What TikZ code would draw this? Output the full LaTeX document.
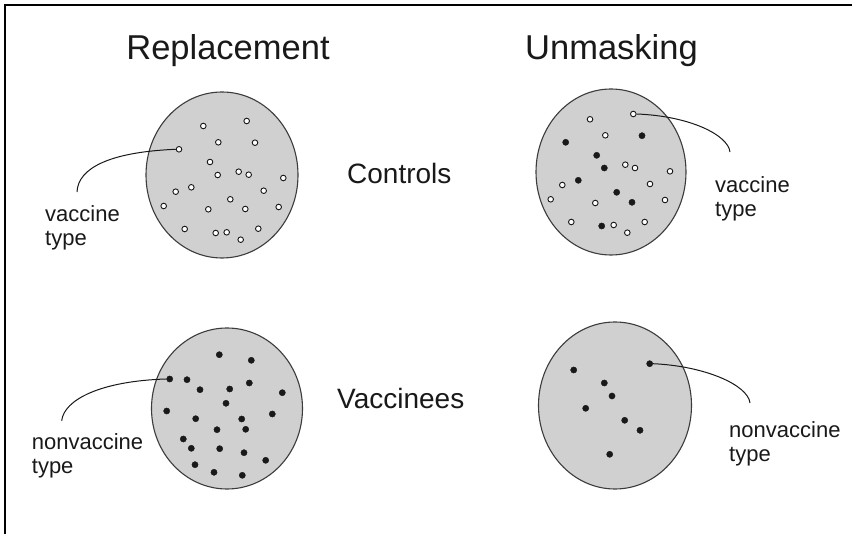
\documentclass[tikz,border=0pt]{standalone}
\usepackage{fontspec}
\setmainfont{Liberation Sans}
\usetikzlibrary{shapes.geometric}
\definecolor{platefill}{RGB}{208,208,208}
\definecolor{ink}{RGB}{25,25,25}
\tikzset{
  plate/.style={ellipse, draw=ink!85, line width=1.1pt, fill=platefill, inner sep=0pt},
  odot/.style={circle, draw=ink, line width=0.9pt, fill=white, inner sep=0pt, minimum size=5.6pt},
  fdot/.style={circle, draw=ink, fill=ink, inner sep=0pt, minimum size=6.2pt},
  lead/.style={draw=ink, line width=1pt},
  title/.style={font=\fontsize{34.5}{40}\selectfont, text=ink, inner sep=0pt},
  group/.style={font=\fontsize{28}{33}\selectfont, text=ink, inner sep=0pt, anchor=base west},
  lbl/.style={font=\fontsize{22}{24.5}\selectfont, text=ink, inner sep=0pt, anchor=base west},
  frameline/.style={draw=black, line width=1.4pt}
}
\begin{document}
\begin{tikzpicture}[x=1pt,y=-1pt]
\useasboundingbox (0,0) rectangle (852,534);
\fill[white] (0,0) rectangle (852,534);
% frame (top and left)
\coordinate (fa) at (852,5);
\coordinate (fb) at (5,5);
\coordinate (fc) at (5,534);
\draw[frameline] (fa) -- (fb) -- (fc);

% titles
\node[title, anchor=base] (tr) at (228,60) {Replacement};
\node[title, anchor=base] (tu) at (611.5,60) {Unmasking};
\node[group] (gc) at (347,184) {Controls};
\node[group] (gv) at (337,409) {Vaccinees};

% plates
\node[plate, minimum width=152pt, minimum height=166pt] (p1) at (222,175) {};
\node[plate, minimum width=150pt, minimum height=166pt] (p2) at (611,172) {};
\node[plate, minimum width=151pt, minimum height=161pt] (p3) at (227,408.5) {};
\node[plate, minimum width=153pt, minimum height=167pt] (p4) at (615,405.5) {};

% plate 1: vaccine type (open)
\foreach \x/\y [count=\i] in {179/149.3, 203.3/126, 246.7/121, 218.3/142.3, 255/142.7,
  210/162, 217.7/175, 238.7/171.7, 248.7/174.7, 283.3/178, 175.7/191.7, 191.3/187.3,
  263.7/190.7, 230.3/199.3, 163.7/206, 208.3/209.3, 245.3/209, 278.7/207, 184.7/229,
  215.7/233, 226.7/232.3, 258.3/228.7, 240.7/239.7}
  \node[odot] (a\i) at (\x,\y) {};

% plate 2: open and filled
\foreach \x/\y [count=\i] in {633.3/114, 590/119.3, 605.3/135.3, 625.3/164.7, 635/168,
  670/171.3, 562.3/185, 650/184, 550.7/199.3, 595.3/203, 665/200, 571.3/222,
  613.7/225, 644.7/222, 627.3/232.7}
  \node[odot] (b\i) at (\x,\y) {};
\foreach \x/\y [count=\i] in {565.7/142.3, 642/135.7, 596.7/155.3, 604.3/168,
  578.3/180.3, 616.7/192.3, 632/202.3, 601.7/226}
  \node[fdot] (c\i) at (\x,\y) {};

% plate 3: nonvaccine type (filled)
\foreach \x/\y [count=\i] in {169.7/379, 219.3/354.7, 251.3/360.3, 187/379.7, 200/389.7,
  249.3/383, 229.7/389, 282.3/392.7, 226/403.3, 166.7/411, 195.7/418.7, 241.7/419,
  272.3/414, 217/429.7, 245.7/429.3, 183.3/439, 191.3/448.3, 219.7/448.7, 244/452.7,
  265.7/460.3, 195/464.7, 214/472.3, 242.3/475.3}
  \node[fdot] (d\i) at (\x,\y) {};

% plate 4: filled
\foreach \x/\y [count=\i] in {649.7/363.7, 573.7/370, 604.3/383, 612/396, 585.7/408.3,
  624.7/420.3, 640/430.3, 609.7/454.3}
  \node[fdot] (e\i) at (\x,\y) {};

% leader lines
\coordinate (l1) at (77,192);
\coordinate (l2) at (730,152);
\coordinate (l3) at (61.7,420.7);
\coordinate (l4) at (750,403);
\draw[lead] (a1.west) .. controls (110,152) and (78,168) .. (l1);
\draw[lead] (b1.east) .. controls (690,116) and (728,135) .. (l2);
\draw[lead] (d1.west) .. controls (100,381) and (64,400) .. (l3);
\draw[lead] (e1.east) .. controls (705,366) and (748,385) .. (l4);

% labels
\node[lbl] (v1a) at (45,222) {vaccine};
\node[lbl] (v1b) at (45,246) {type};
\node[lbl] (v2a) at (715,193) {vaccine};
\node[lbl] (v2b) at (715,217) {type};
\node[lbl] (n1a) at (31.7,450) {nonvaccine};
\node[lbl] (n1b) at (31.7,474) {type};
\node[lbl] (n2a) at (729,438) {nonvaccine};
\node[lbl] (n2b) at (729,462) {type};
\end{tikzpicture}
\end{document}
